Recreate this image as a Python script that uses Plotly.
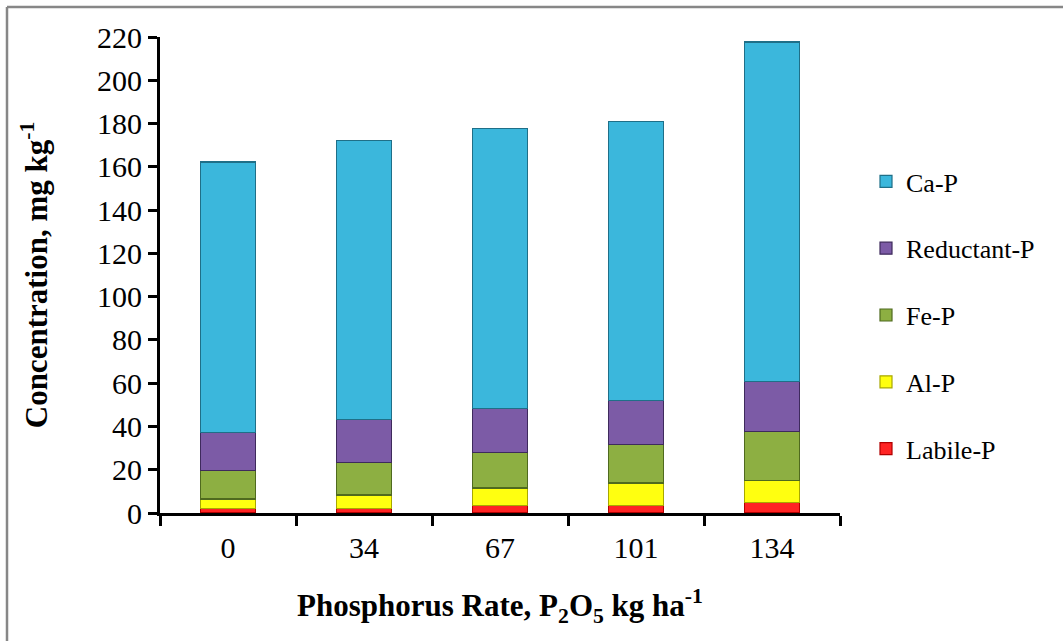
import plotly.graph_objects as go

rates = ["0", "34", "67", "101", "134"]
labile_p = [2.0, 2.0, 3.5, 3.5, 4.9]
al_p = [4.5, 6.3, 8.1, 10.4, 10.2]
fe_p = [13.2, 15.1, 16.4, 17.8, 22.6]
reductant_p = [17.5, 19.7, 20.3, 20.3, 23.1]
ca_p = [125.0, 128.9, 129.3, 128.9, 156.9]

series = [
    ("Labile-P", labile_p, "#FF2424", "#B00000"),
    ("Al-P", al_p, "#FFFF10", "#A8A800"),
    ("Fe-P", fe_p, "#8DAF42", "#4F6A1E"),
    ("Reductant-P", reductant_p, "#7C5BA6", "#3E2A5C"),
    ("Ca-P", ca_p, "#3BB7DC", "#1F6F88"),
]

W, H = 1063, 641
L, R, T, B = 160, 223, 37, 128
pw = W - L - R
ph = H - T - B

fig = go.Figure()
n = len(series)
for i, (name, vals, col, edge) in enumerate(series):
    fig.add_trace(go.Bar(
        x=rates, y=vals, name=name, legendgroup=name,
        legendrank=n - i,
        marker=dict(color=col, line=dict(color=edge, width=1.2)),
    ))

font_family = "Liberation Serif"

def px_x(p):
    return (p - L) / pw

def px_y(p):
    return (H - B - p) / ph

fig.update_layout(
    width=W, height=H,
    margin=dict(l=L, r=R, t=T, b=B, autoexpand=False),
    barmode="stack",
    bargap=0.6,
    plot_bgcolor="white",
    paper_bgcolor="white",
    font=dict(family=font_family, color="black", size=30),
    legend=dict(
        traceorder="grouped",
        x=px_x(866), xanchor="left",
        y=px_y(158), yanchor="top",
        font=dict(size=26, family=font_family, color="black"),
        tracegroupgap=30,
        bgcolor="rgba(0,0,0,0)",
        itemwidth=30,
    ),
    xaxis=dict(
        type="category",
        showline=True, linecolor="black", linewidth=3,
        ticks="outside", ticklen=10, tickwidth=3, tickcolor="black",
        tickson="boundaries",
        ticklabelstandoff=6,
        tickfont=dict(size=30, family=font_family),
        title=dict(
            text="<b>Phosphorus Rate, P<sub>2</sub>O<sub>5</sub> kg ha<sup>-1</sup></b>",
            font=dict(size=31, family=font_family),
            standoff=32,
        ),
        showgrid=False, zeroline=False,
    ),
    yaxis=dict(
        range=[0, 220], dtick=20,
        showline=True, linecolor="black", linewidth=3,
        ticks="outside", ticklen=9, tickwidth=3, tickcolor="black",
        tickfont=dict(size=30, family=font_family),
        title=dict(
            text="<b>Concentration, mg kg<sup>-1</sup></b>",
            font=dict(size=31, family=font_family),
            standoff=41,
        ),
        showgrid=False, zeroline=False,
    ),
    shapes=[
        dict(type="line", xref="paper", yref="paper",
             x0=px_x(7), x1=px_x(W + 5), y0=px_y(7), y1=px_y(7),
             line=dict(color="#878787", width=2.5)),
        dict(type="line", xref="paper", yref="paper",
             x0=px_x(7), x1=px_x(7), y0=px_y(7), y1=px_y(H + 5),
             line=dict(color="#878787", width=2.5)),
    ],
)

fig.write_html(
    "out.html",
    config={"displayModeBar": False},
    post_script="document.body.style.margin='0';",
)
